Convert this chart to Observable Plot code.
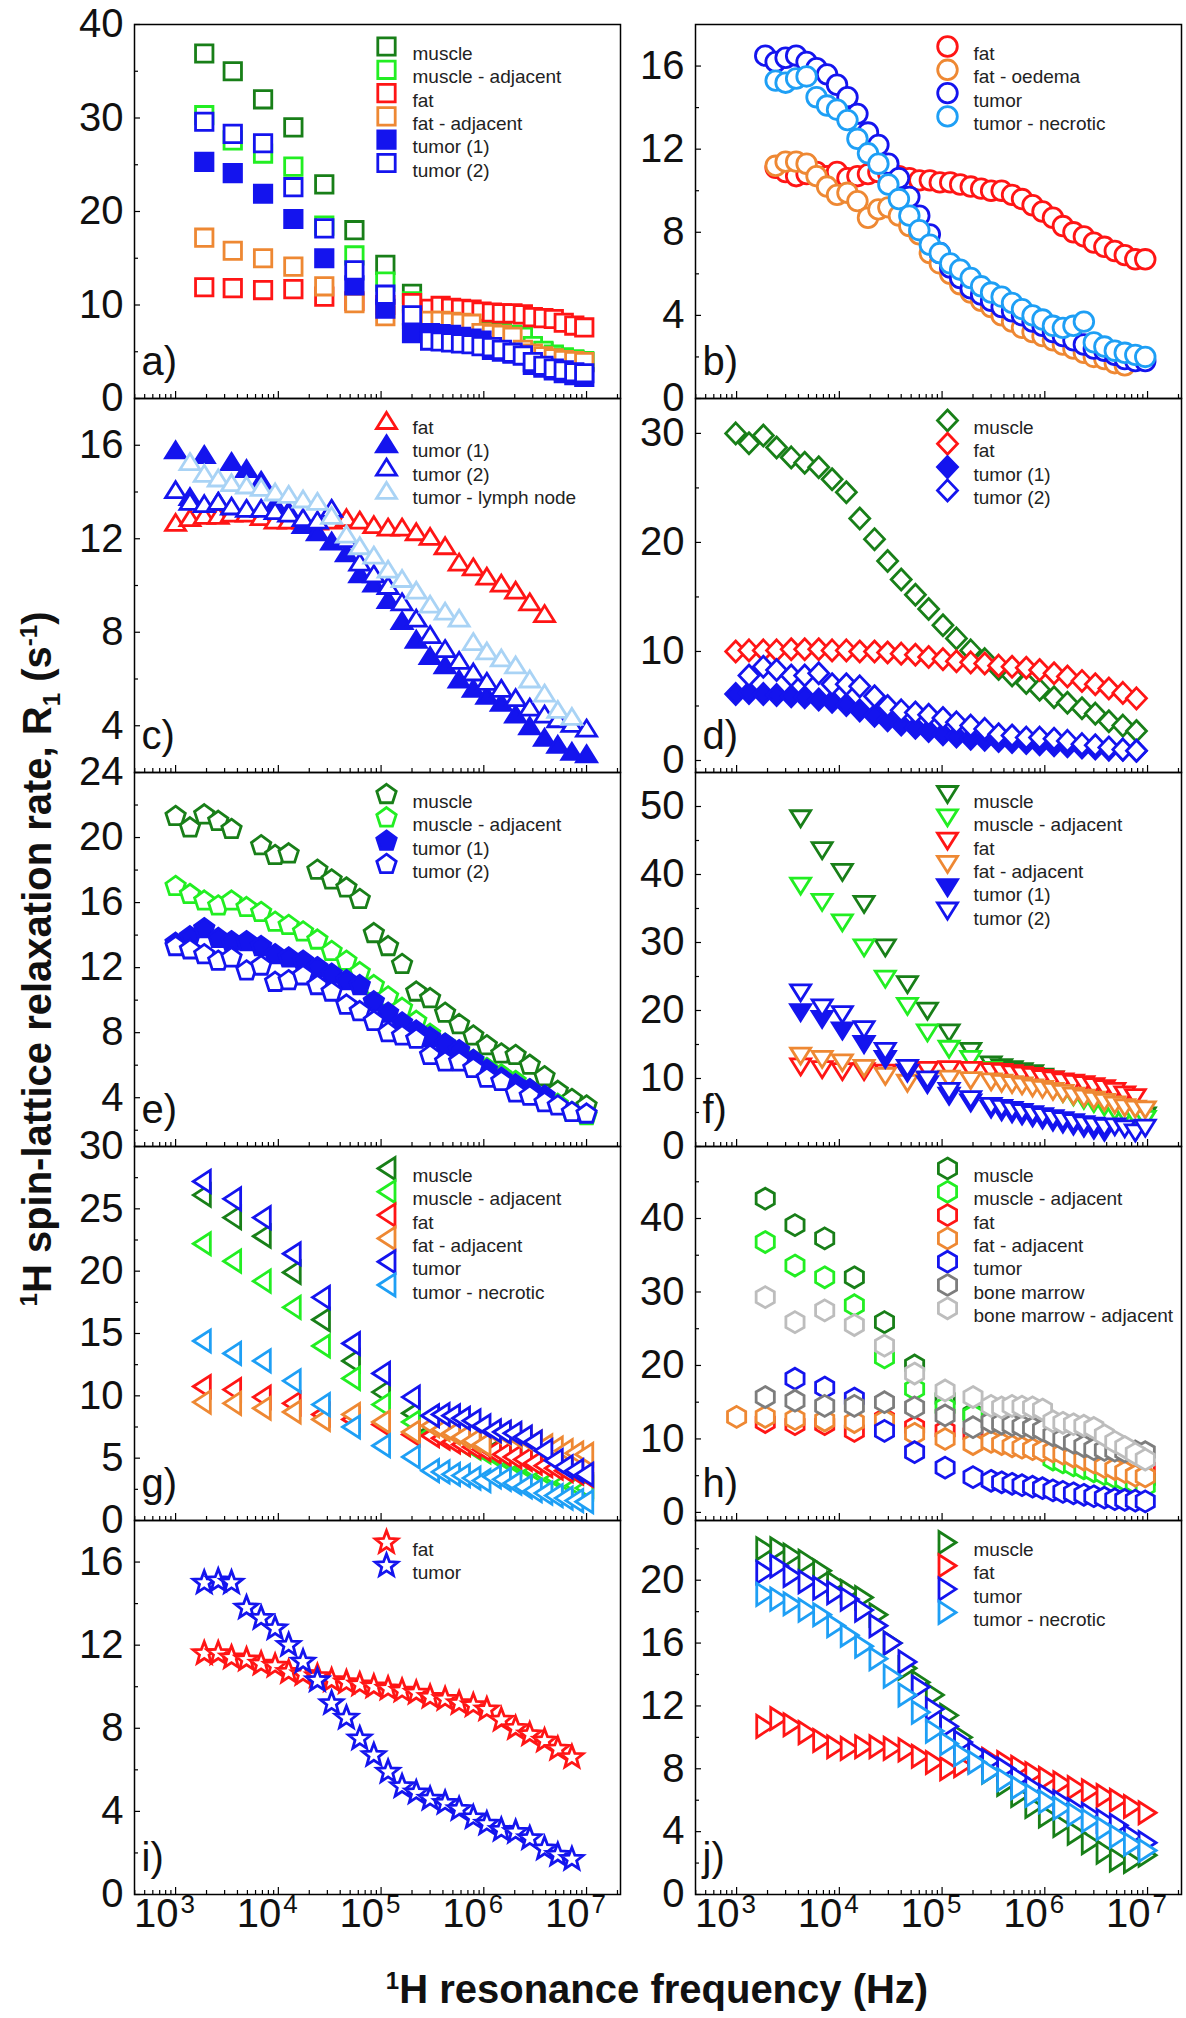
<!DOCTYPE html>
<html><head><meta charset="utf-8">
<script src="https://cdn.jsdelivr.net/npm/d3@7"></script>
<script src="https://cdn.jsdelivr.net/npm/@observablehq/plot@0.6"></script>
<style>
body{margin:0;background:#fff;}
#fig{position:relative;width:1186px;height:2018px;overflow:hidden;font-family:"Liberation Sans",Arial,sans-serif;}
.pn{position:absolute;}
.pn svg{overflow:visible;}
#ytitle{position:absolute;left:37px;top:959px;transform:translate(-50%,-50%) rotate(-90deg);white-space:nowrap;font-weight:bold;font-size:40px;line-height:1;color:#111;}
#xtitle{position:absolute;left:657px;top:1969px;transform:translateX(-50%);white-space:nowrap;font-weight:bold;font-size:40px;line-height:1;color:#111;}
sup,sub{font-size:0.6em;line-height:0;}
</style></head><body>
<div id="fig">
<div id="ytitle"><sup>1</sup>H spin-lattice relaxation rate, R<sub>1</sub> (s<sup>-1</sup>)</div>
<div id="xtitle"><sup>1</sup>H resonance frequency (Hz)</div>
</div>
<script>
// ---------- frequency grids (Hz) ----------
const freqG30 = [1.0e3,1.38e3,1.9e3,2.6e3,3.5e3,4.9e3,6.8e3,9.3e3,1.26e4,1.74e4,2.4e4,3.3e4,4.6e4,6.2e4,8.5e4,1.17e5,1.6e5,2.2e5,3.0e5,4.2e5,5.75e5,7.9e5,1.07e6,1.48e6,2.04e6,2.8e6,3.9e6,5.25e6,7.2e6,1.0e7];
const freqD = [9.8e2,1.32e3,1.82e3,2.45e3,3.4e3,4.6e3,6.3e3,8.5e3,1.17e4,1.58e4,2.2e4,2.95e4,4.0e4,5.5e4,7.4e4,1.02e5,1.38e5,1.9e5,2.6e5,3.55e5,4.8e5,6.6e5,8.9e5,1.23e6,1.66e6,2.3e6,3.1e6,4.2e6,5.75e6,7.8e6];
const freqB = [1.9e3,2.4e3,3.0e3,3.8e3,4.8e3,6.0e3,7.6e3,9.5e3,1.2e4,1.5e4,1.9e4,2.4e4,3.0e4,3.8e4,4.8e4,6.0e4,7.6e4,9.5e4,1.2e5,1.5e5,1.9e5,2.4e5,3.0e5,3.8e5,4.8e5,6.0e5,7.6e5,9.5e5,1.2e6,1.5e6,1.9e6,2.4e6,3.0e6,3.8e6,4.8e6,6.0e6,7.6e6,9.5e6];
const freqA = [1.9e3,3.6e3,7.1e3,1.4e4,2.8e4,5.5e4,1.1e5,2.0e5,3.0e5,3.8e5,4.8e5,6.0e5,7.6e5,9.5e5,1.2e6,1.5e6,1.9e6,2.4e6,3.0e6,3.8e6,4.8e6,6.0e6,7.6e6,9.5e6];
const freqF = [4.2e3,6.8e3,1.07e4,1.74e4,2.8e4,4.6e4,7.2e4,1.17e5,1.9e5,3.0e5,3.8e5,4.8e5,6.0e5,7.6e5,9.5e5,1.2e6,1.5e6,1.9e6,2.4e6,3.0e6,3.8e6,4.8e6,6.0e6,7.6e6,9.5e6];
const freqG = [1.8e3,3.55e3,6.9e3,1.35e4,2.6e4,5.1e4,1.0e5,1.95e5,3.0e5,3.8e5,4.8e5,6.0e5,7.6e5,9.5e5,1.2e6,1.5e6,1.9e6,2.4e6,3.0e6,3.8e6,4.8e6,6.0e6,7.6e6,9.5e6];
const freqH = [1.0e3,1.9e3,3.7e3,7.2e3,1.4e4,2.75e4,5.4e4,1.07e5,2.0e5,3.0e5,3.8e5,4.8e5,6.0e5,7.6e5,9.5e5,1.2e6,1.5e6,1.9e6,2.4e6,3.0e6,3.8e6,4.8e6,6.0e6,7.6e6,9.5e6];

// ---------- series names ----------
const namesA = ["muscle","muscle - adjacent","fat","fat - adjacent","tumor (1)","tumor (2)"];
const namesB = ["fat","fat - oedema","tumor","tumor - necrotic"];
const namesC = ["fat","tumor (1)","tumor (2)","tumor - lymph node"];
const namesD = ["muscle","fat","tumor (1)","tumor (2)"];
const namesE = ["muscle","muscle - adjacent","tumor (1)","tumor (2)"];
const namesF = ["muscle","muscle - adjacent","fat","fat - adjacent","tumor (1)","tumor (2)"];
const namesG = ["muscle","muscle - adjacent","fat","fat - adjacent","tumor","tumor - necrotic"];
const namesH = ["muscle","muscle - adjacent","fat","fat - adjacent","tumor","bone marrow","bone marrow - adjacent"];
const namesI = ["fat","tumor"];
const namesJ = ["muscle","fat","tumor","tumor - necrotic"];

// ---------- R1 values (s^-1) ----------
// a)
const muscleA   = [36.9,35.0,32.0,29.0,22.9,18.0,14.3,11.2,8.3,8.2,8.0,7.9,7.5,7.2,7.0,6.9,6.7,6.5,5.5,5.0,4.6,4.3,4.1,3.9];
const muscleAdjA= [30.3,27.6,26.2,24.8,18.5,15.3,12.5,10.4,8.4,8.2,8.1,7.9,7.6,7.3,7.1,7.0,6.8,6.6,5.6,5.1,4.7,4.4,4.2,4.0];
const fatA      = [11.9,11.8,11.6,11.7,10.9,10.4,10.0,10.2,9.6,9.9,9.7,9.6,9.5,9.3,9.2,9.1,9.1,9.0,8.7,8.6,8.5,8.1,7.8,7.6];
const fatAdjA   = [17.2,15.8,15.0,14.1,12.0,10.2,8.8,8.5,8.3,8.3,8.2,8.1,8.0,7.0,6.9,6.8,6.6,5.2,4.8,4.5,4.3,4.1,4.0,3.9];
const tumor1A   = [25.3,24.1,21.9,19.2,15.0,12.1,9.6,7.0,7.0,6.9,6.8,6.6,6.4,6.2,5.2,5.0,4.8,4.6,3.6,3.3,3.0,2.7,2.5,2.3];
const tumor2A   = [29.6,28.3,27.3,22.6,18.2,13.7,11.1,8.9,6.2,6.1,6.0,5.9,5.8,5.6,5.5,5.2,4.9,4.6,3.9,3.5,3.2,3.0,2.8,2.7];
// b)
const fatB      = [null,11.1,10.9,10.7,10.8,10.9,10.7,10.9,10.6,10.7,10.8,10.9,10.8,10.7,10.6,10.5,10.5,10.4,10.4,10.3,10.2,10.1,10.0,10.0,9.8,9.6,9.3,9.0,8.7,8.3,8.0,7.8,7.5,7.3,7.1,6.9,6.7,6.7];
const oedemaB   = [null,11.2,11.4,11.4,11.3,10.7,10.2,9.8,9.9,9.5,8.7,9.1,9.2,8.8,8.3,7.9,7.0,6.5,6.0,5.5,5.1,4.7,4.4,4.0,3.7,3.4,3.2,3.0,2.8,2.6,2.4,2.2,2.0,1.9,1.7,1.6,null,null];
const tumorB    = [16.5,16.2,16.4,16.5,16.2,15.9,15.6,15.1,14.5,13.7,12.8,12.2,11.3,10.6,9.7,8.8,7.9,7.0,6.3,5.8,5.3,5.0,4.7,4.4,4.2,4.0,3.7,3.5,3.2,3.0,2.8,2.6,2.4,2.3,2.1,1.9,1.8,1.8];
const necroticB = [null,15.3,15.2,15.4,15.5,14.5,14.1,13.9,13.4,12.5,11.8,11.3,10.3,9.6,8.8,8.1,7.4,7.0,6.5,6.2,5.8,5.4,5.1,4.9,4.6,4.3,4.0,3.8,3.5,3.4,3.5,3.7,2.7,2.5,2.3,2.2,2.1,2.0];
// c)
const fatC      = [12.7,12.9,13.0,13.0,13.1,13.1,12.95,12.8,12.8,12.8,12.75,12.8,12.9,12.8,12.6,12.5,12.5,12.3,12.1,11.7,11.0,10.8,10.4,10.1,9.8,9.3,8.8,null,null,null];
const tumor1C   = [15.8,13.8,15.6,13.6,15.3,15.0,14.5,13.5,13.2,12.6,12.3,11.9,11.4,10.5,10.1,9.4,8.5,7.7,7.0,6.6,6.0,5.6,5.3,5.0,4.5,4.0,3.5,3.2,2.9,2.8];
const tumor2C   = [14.1,13.6,13.5,13.6,13.4,13.3,13.3,13.2,13.1,12.9,12.8,13.3,12.0,11.0,10.5,10.0,9.3,8.6,7.9,7.3,6.8,6.3,5.9,5.6,5.2,4.8,4.5,4.3,4.1,3.9];
const lymphC    = [null,15.3,14.8,14.6,14.4,14.3,14.2,14.0,13.9,13.7,13.6,13.0,12.2,11.7,11.3,10.7,10.3,9.8,9.2,8.9,8.6,7.6,7.2,6.9,6.6,6.0,5.4,4.7,4.4,null];
// d)
const muscleD   = [30.0,29.1,29.8,28.7,27.8,27.3,26.9,25.8,24.6,22.2,20.3,18.3,16.6,15.2,13.9,12.4,11.2,10.1,9.3,8.4,7.8,7.1,6.5,5.8,5.3,4.8,4.3,3.6,3.2,2.7];
const fatD      = [10.0,10.1,10.1,10.1,10.2,10.2,10.2,10.1,10.1,10.0,10.0,9.9,9.8,9.7,9.5,9.3,9.1,9.0,8.9,8.7,8.6,8.5,8.3,8.0,7.7,7.3,7.0,6.6,6.2,5.7];
const tumor1D   = [6.1,6.2,6.1,6.0,5.9,5.8,5.6,5.4,5.1,4.6,4.1,3.7,3.3,3.0,2.7,2.4,2.2,2.0,1.9,1.8,1.7,1.6,1.5,1.4,1.3,1.2,1.1,1.0,1.0,0.9];
const tumor2D   = [null,7.8,8.6,8.3,7.8,7.8,8.0,7.0,7.0,6.8,5.9,5.0,4.6,4.4,4.2,3.9,3.5,3.2,2.9,2.4,2.3,2.1,2.1,2.0,1.8,1.5,1.4,1.2,1.0,0.9];
// e)
const muscleE   = [21.3,20.6,21.4,21.0,20.5,null,19.5,18.9,19.0,null,18.0,17.4,16.9,16.2,14.1,13.3,12.2,10.5,10.1,9.2,8.5,7.8,7.2,6.7,6.6,6.0,5.3,4.4,3.9,3.5];
const muscleAdjE= [17.0,16.5,16.1,15.8,16.1,15.7,15.4,14.8,14.6,14.2,13.7,13.0,12.4,11.7,10.9,10.2,9.5,8.7,7.9,7.3,6.8,6.3,5.8,5.4,5.0,4.5,4.0,3.6,3.1,2.9];
const tumor1E   = [13.5,13.9,14.4,13.8,13.6,13.6,13.3,12.8,12.6,12.4,12.0,11.6,11.2,10.9,9.9,9.2,8.6,8.1,7.7,7.3,6.9,6.3,5.7,5.2,4.8,4.5,4.1,null,null,null];
const tumor2E   = [13.3,13.1,12.8,12.4,12.6,11.8,12.1,11.1,11.2,11.5,10.9,10.5,9.7,9.3,8.7,8.0,7.8,7.6,6.6,6.2,6.2,5.8,5.2,5.0,4.3,4.1,3.7,3.5,3.1,3.0];
// f)
const muscleF   = [48.2,43.5,40.3,35.6,29.2,23.8,19.9,16.7,14.0,12.0,11.6,11.3,11.0,10.7,10.2,9.8,9.2,8.7,8.2,7.6,7.0,6.2,5.5,5.0,4.5];
const muscleAdjF= [38.3,35.9,32.9,29.2,24.6,20.6,16.7,14.3,12.8,11.2,10.6,10.1,9.6,9.2,8.7,8.3,7.8,7.3,6.8,6.3,5.8,5.2,4.7,4.3,4.0];
const fatF      = [11.7,11.3,11.0,11.0,10.8,10.8,11.2,11.3,11.2,11.0,10.9,10.7,10.5,10.3,10.0,9.8,9.5,9.3,9.1,8.8,8.5,8.1,7.6,7.2,null];
const fatAdjF   = [13.3,12.8,12.3,11.5,10.3,9.3,9.6,9.9,9.7,9.5,9.3,9.1,8.9,8.6,8.4,8.1,7.8,7.4,7.1,6.8,6.5,6.1,5.7,5.5,5.4];
const tumor1F   = [19.7,18.7,17.0,15.0,12.8,10.8,9.1,7.4,6.4,5.5,5.1,4.8,4.5,4.2,3.9,3.6,3.3,3.0,2.7,2.4,2.1,null,null,null,null];
const tumor2F   = [22.6,20.4,19.4,17.2,14.0,11.5,9.8,8.1,6.9,5.9,5.6,5.3,5.0,4.7,4.4,4.1,3.8,3.5,3.2,3.0,2.8,2.9,2.6,2.0,2.7];
// g)
const muscleG   = [26.1,24.3,22.8,19.9,16.1,12.8,10.3,8.6,7.2,7.0,6.7,6.5,6.2,5.9,5.6,5.2,4.9,4.6,4.3,4.0,3.6,3.3,3.0,2.8];
const muscleAdjG= [22.2,20.8,19.2,17.1,14.0,11.4,9.3,7.9,7.0,6.7,6.4,6.1,5.8,5.5,5.2,4.9,4.6,4.3,4.0,3.7,3.4,3.1,2.8,2.6];
const fatG      = [10.75,10.5,9.9,9.4,8.5,8.1,7.7,6.9,6.8,6.6,6.3,6.1,5.9,5.7,5.5,5.3,5.1,4.9,4.6,4.4,4.2,4.0,3.8,3.6];
const fatAdjG   = [9.5,9.4,9.0,8.7,8.1,8.5,7.9,7.1,7.6,7.3,7.0,6.7,6.4,6.1,7.1,7.0,6.8,6.6,6.3,6.0,5.8,5.6,5.4,5.3];
const tumorG    = [27.2,25.8,24.3,21.4,17.9,14.2,11.8,9.9,8.4,8.5,8.4,8.2,8.0,7.6,7.2,7.1,7.0,6.7,6.3,5.6,4.8,4.3,4.0,3.7];
const necroticG = [14.4,13.4,12.8,11.2,9.3,7.5,6.0,5.1,4.0,3.9,3.7,3.6,3.4,3.2,3.5,3.3,3.0,2.7,2.4,2.2,2.0,1.8,1.6,1.5];
// h)
const muscleH   = [null,42.7,39.1,37.3,32.0,25.9,20.0,15.5,13.4,12.0,11.5,11.0,10.5,10.0,9.5,9.0,8.5,8.0,7.5,7.0,6.5,6.0,5.5,5.0,4.5];
const muscleAdjH= [null,36.8,33.6,32.0,28.2,21.1,16.8,14.3,13.2,11.5,11.0,10.5,10.0,9.5,9.0,7.2,6.8,6.4,6.0,5.6,5.2,4.8,4.4,4.0,3.6];
const fatH      = [null,12.3,12.0,12.0,11.1,12.7,11.6,11.1,10.7,10.8,10.6,10.4,10.2,10.0,9.8,9.5,9.2,8.9,8.6,8.3,8.0,7.5,7.0,6.5,6.0];
const fatAdjH   = [13.0,13.0,12.7,12.5,12.3,12.5,10.7,10.0,9.3,9.6,9.3,9.0,8.8,8.6,8.4,8.3,8.0,7.6,7.2,6.8,6.2,5.9,5.5,5.0,4.9];
const tumorH    = [null,null,18.2,17.0,15.5,11.1,8.2,6.1,4.8,4.3,4.1,3.9,3.7,3.5,3.3,3.0,2.8,2.6,2.4,2.2,2.0,1.8,1.7,1.6,1.5];
const boneH     = [null,15.7,15.2,14.5,14.5,15.0,14.3,13.2,11.6,12.3,12.1,11.9,11.7,11.5,11.2,10.5,10.0,9.5,9.0,8.6,8.5,8.4,8.3,8.3,8.2];
const boneAdjH  = [null,29.3,25.9,27.5,25.5,22.7,18.9,16.6,15.7,14.5,14.3,14.5,14.4,14.3,14.0,12.4,12.2,12.0,11.8,11.5,10.5,9.6,8.9,8.0,7.2];
// i)
const fatI      = [null,null,11.6,11.6,11.4,11.3,11.1,11.0,10.7,10.6,10.5,10.3,10.2,10.1,10.0,9.9,9.8,9.7,9.5,9.4,9.2,9.1,8.9,8.4,8.0,7.7,7.4,7.0,6.6,null];
const tumorI    = [null,null,15.0,15.1,15.0,13.8,13.3,12.8,12.0,11.2,10.3,9.2,8.5,7.5,6.7,5.9,5.2,4.9,4.6,4.4,4.1,3.7,3.4,3.1,3.0,2.7,2.2,1.9,1.7,null];
// j)
const muscleJ   = [null,null,22.0,22.0,21.6,21.2,20.6,19.8,19.3,18.9,17.8,16.0,14.4,13.5,12.7,11.4,10.0,8.8,7.8,7.0,6.3,5.6,5.0,4.4,3.9,3.3,2.7,2.2,2.1,2.5];
const fatJ      = [null,null,10.7,11.2,10.8,10.3,9.8,9.4,9.3,9.4,9.4,9.3,9.2,8.8,8.4,8.0,8.2,8.5,8.6,8.4,8.1,7.7,7.4,7.1,6.8,6.6,6.3,6.0,5.6,5.2];
const tumorJ    = [null,null,20.5,20.9,20.3,19.9,19.5,19.2,18.8,18.1,17.1,16.0,14.8,13.2,11.8,10.7,9.7,9.0,8.5,8.0,7.4,6.8,6.3,5.9,5.4,5.1,4.7,4.4,3.7,3.3];
const necroticJ = [null,null,19.1,18.8,18.5,18.1,17.8,17.1,16.5,15.8,15.0,13.9,12.7,11.6,10.4,9.6,8.9,8.4,7.8,7.3,6.8,6.3,5.9,5.5,5.1,4.7,4.2,3.7,3.2,2.8];

// ---------- tick values ----------
const xDecades = [1e3,1e4,1e5,1e6,1e7];
const xMinor = [4e2,5e2,6e2,7e2,8e2,9e2,2e3,3e3,4e3,5e3,6e3,7e3,8e3,9e3,2e4,3e4,4e4,5e4,6e4,7e4,8e4,9e4,2e5,3e5,4e5,5e5,6e5,7e5,8e5,9e5,2e6,3e6,4e6,5e6,6e6,7e6,8e6,9e6,2e7];

// ---------- styles ----------
const DG = "#187f18", LG = "#22ee22", RED = "#ff1515", OR = "#ee8833", BLUE = "#1414ee",
      NEC = "#1e9ff5", LYM = "#a9d3f5", GRAY = "#7d7d7d", LGRAY = "#bdbdbd";

function poly(c, pts) { c.moveTo(pts[0][0], pts[0][1]); for (let i = 1; i < pts.length; ++i) c.lineTo(pts[i][0], pts[i][1]); c.closePath(); }
const rad = s => Math.sqrt(s / Math.PI);
const SQUARE = {draw(c, s) { const h = 0.87 * rad(s); poly(c, [[-h,-h],[h,-h],[h,h],[-h,h]]); }};
const CIRCLE = {draw(c, s) { const r = 0.98 * rad(s); c.moveTo(r, 0); c.arc(0, 0, r, 0, 2 * Math.PI); c.closePath(); }};
const TRI_UP = {draw(c, s) { const r = rad(s); poly(c, [[0,-0.8*r],[r,0.8*r],[-r,0.8*r]]); }};
const TRI_DOWN = {draw(c, s) { const r = rad(s); poly(c, [[0,0.8*r],[r,-0.8*r],[-r,-0.8*r]]); }};
const TRI_LEFT = {draw(c, s) { const r = rad(s); poly(c, [[-0.85*r,0],[0.85*r,-1.1*r],[0.85*r,1.1*r]]); }};
const TRI_RIGHT = {draw(c, s) { const r = rad(s); poly(c, [[0.85*r,0],[-0.85*r,-1.1*r],[-0.85*r,1.1*r]]); }};
const DIAMOND = {draw(c, s) { const r = rad(s); poly(c, [[0,-1.05*r],[r,0],[0,1.05*r],[-r,0]]); }};
function ngon(n, k, rot) { return {draw(c, s) { const r = k * rad(s); const p = []; for (let i = 0; i < n; ++i) { const a = rot + i * 2 * Math.PI / n; p.push([r * Math.cos(a), r * Math.sin(a)]); } poly(c, p); }}; }
const PENTAGON = ngon(5, 1.02, -Math.PI / 2);
const HEXAGON = ngon(6, 1.05, -Math.PI / 2);
const STAR = {draw(c, s) { const r = rad(s); const p = []; for (let i = 0; i < 10; ++i) { const a = -Math.PI / 2 + i * Math.PI / 5, q = i % 2 ? 0.5 * r : 1.18 * r; p.push([q * Math.cos(a), q * Math.sin(a)]); } poly(c, p); }};

const PANELS = [
  {letter:"a)", col:0, row:0, freq:freqA, names:namesA, values:[muscleA,muscleAdjA,fatA,fatAdjA,tumor1A,tumor2A], colors:[DG,LG,RED,OR,BLUE,BLUE], filled:[0,0,0,0,1,0], symbol:SQUARE, y:[0,40], yMajor:[0,10,20,30,40], yMinor:[5,15,25,35]},
  {letter:"b)", col:1, row:0, freq:freqB, names:namesB, values:[fatB,oedemaB,tumorB,necroticB], colors:[RED,OR,BLUE,NEC], filled:[0,0,0,0], symbol:CIRCLE, y:[0,18], yMajor:[0,4,8,12,16], yMinor:[2,6,10,14]},
  {letter:"c)", col:0, row:1, freq:freqG30, names:namesC, values:[fatC,tumor1C,tumor2C,lymphC], colors:[RED,BLUE,BLUE,LYM], filled:[0,1,0,0], symbol:TRI_UP, y:[2,18], yMajor:[4,8,12,16], yMinor:[6,10,14]},
  {letter:"d)", col:1, row:1, freq:freqD, names:namesD, values:[muscleD,fatD,tumor1D,tumor2D], colors:[DG,RED,BLUE,BLUE], filled:[0,0,1,0], symbol:DIAMOND, y:[-1.1,33.2], yMajor:[0,10,20,30], yMinor:[5,15,25]},
  {letter:"e)", col:0, row:2, freq:freqG30, names:namesE, values:[muscleE,muscleAdjE,tumor1E,tumor2E], colors:[DG,LG,BLUE,BLUE], filled:[0,0,1,0], symbol:PENTAGON, y:[1,24], yMajor:[4,8,12,16,20,24], yMinor:[2,6,10,14,18,22]},
  {letter:"f)", col:1, row:2, freq:freqF, names:namesF, values:[muscleF,muscleAdjF,fatF,fatAdjF,tumor1F,tumor2F], colors:[DG,LG,RED,OR,BLUE,BLUE], filled:[0,0,0,0,1,0], symbol:TRI_DOWN, y:[0,55], yMajor:[0,10,20,30,40,50], yMinor:[5,15,25,35,45]},
  {letter:"g)", col:0, row:3, freq:freqG, names:namesG, values:[muscleG,muscleAdjG,fatG,fatAdjG,tumorG,necroticG], colors:[DG,LG,RED,OR,BLUE,NEC], filled:[0,0,0,0,0,0], symbol:TRI_LEFT, y:[0,30], yMajor:[0,5,10,15,20,25,30], yMinor:[2.5,7.5,12.5,17.5,22.5,27.5]},
  {letter:"h)", col:1, row:3, freq:freqH, names:namesH, values:[muscleH,muscleAdjH,fatH,fatAdjH,tumorH,boneH,boneAdjH], colors:[DG,LG,RED,OR,BLUE,GRAY,LGRAY], filled:[0,0,0,0,0,0,0], symbol:HEXAGON, y:[-1.1,49.8], yMajor:[0,10,20,30,40], yMinor:[5,15,25,35,45]},
  {letter:"i)", col:0, row:4, freq:freqG30, names:namesI, values:[fatI,tumorI], colors:[RED,BLUE], filled:[0,0], symbol:STAR, y:[0,18], yMajor:[0,4,8,12,16], yMinor:[2,6,10,14]},
  {letter:"j)", col:1, row:4, freq:freqG30, names:namesJ, values:[muscleJ,fatJ,tumorJ,necroticJ], colors:[DG,RED,BLUE,NEC], filled:[0,0,0,0], symbol:TRI_RIGHT, y:[0,23.8], yMajor:[0,4,8,12,16,20], yMinor:[2,6,10,14,18,22]}
];

const IH = 374, IW = 486, MT = 24;
const fig = document.getElementById("fig");

for (const P of PANELS) {
  const bottom = P.row === 4;
  const mL = P.col === 0 ? 134 : 70;
  const W = mL + IW + 5;
  const MB = bottom ? 80 : 24;
  const marks = [];
  // inward ticks
  marks.push(Plot.tickX(xMinor, {x: d => d, insetTop: IH - 4, stroke: "black", strokeWidth: 1.2}));
  marks.push(Plot.tickX(xDecades, {x: d => d, insetTop: IH - 7, stroke: "black", strokeWidth: 1.2}));
  marks.push(Plot.tickY(P.yMinor, {y: d => d, insetRight: IW - 4, stroke: "black", strokeWidth: 1.2}));
  marks.push(Plot.tickY(P.yMajor, {y: d => d, insetRight: IW - 6, stroke: "black", strokeWidth: 1.2}));
  // data
  P.names.forEach((name, si) => {
    const rows = [];
    P.values[si].forEach((v, i) => { if (v != null) rows.push({f: P.freq[i], r: v}); });
    marks.push(Plot.dot(rows, {x: "f", y: "r", symbol: P.symbol, r: 10, stroke: P.colors[si], fill: P.filled[si] ? P.colors[si] : "white", strokeWidth: 2.8, strokeLinejoin: "miter"}));
  });
  // legend
  P.names.forEach((name, si) => {
    marks.push(Plot.dot([name], {frameAnchor: "top-left", dx: 252, dy: 22 + 23.3 * si, symbol: P.symbol, r: 10, stroke: P.colors[si], fill: P.filled[si] ? P.colors[si] : "white", strokeWidth: 2.8, strokeLinejoin: "miter"}));
    marks.push(Plot.text([name], {frameAnchor: "top-left", dx: 278, dy: 22 + 23.3 * si, text: d => d, textAnchor: "start", fontSize: 19, fill: "#222"}));
  });
  // panel letter
  marks.push(Plot.text([P.letter], {frameAnchor: "bottom-left", dx: 7, dy: -24, text: d => d, textAnchor: "start", fontSize: 40, fill: "#111"}));
  // y axis labels
  marks.push(Plot.axisY({ticks: P.yMajor, tickSize: 0, tickPadding: 11, fontSize: 40, label: null, tickFormat: d => String(d), fill: "#111"}));
  // x axis labels on bottom row
  if (bottom) {
    marks.push(Plot.text(xDecades, {x: d => d, frameAnchor: "bottom", dy: 32, dx: 3, text: () => "10", textAnchor: "end", fontSize: 40, fill: "#111"}));
    marks.push(Plot.text(xDecades, {x: d => d, frameAnchor: "bottom", dy: 18, dx: 5, text: d => String(Math.round(Math.log10(d))), textAnchor: "start", fontSize: 26, fill: "#111"}));
  }
  marks.push(Plot.frame({stroke: "black", strokeWidth: 1.5}));

  const svg = Plot.plot({
    width: W, height: IH + MT + MB,
    marginLeft: mL, marginRight: 5, marginTop: MT, marginBottom: MB,
    style: {fontFamily: "'Liberation Sans', Arial, sans-serif", fontSize: "19px", background: "transparent", overflow: "visible"},
    x: {type: "log", domain: [398, 2.14e7], axis: null},
    y: {domain: P.y, axis: null, label: null},
    marks
  });
  const holder = document.createElement("div");
  holder.className = "pn";
  holder.style.left = (P.col === 0 ? 0 : 625) + "px";
  holder.style.top = (P.row * IH) + "px";
  holder.appendChild(svg);
  fig.appendChild(holder);
}
</script>
</body></html>
